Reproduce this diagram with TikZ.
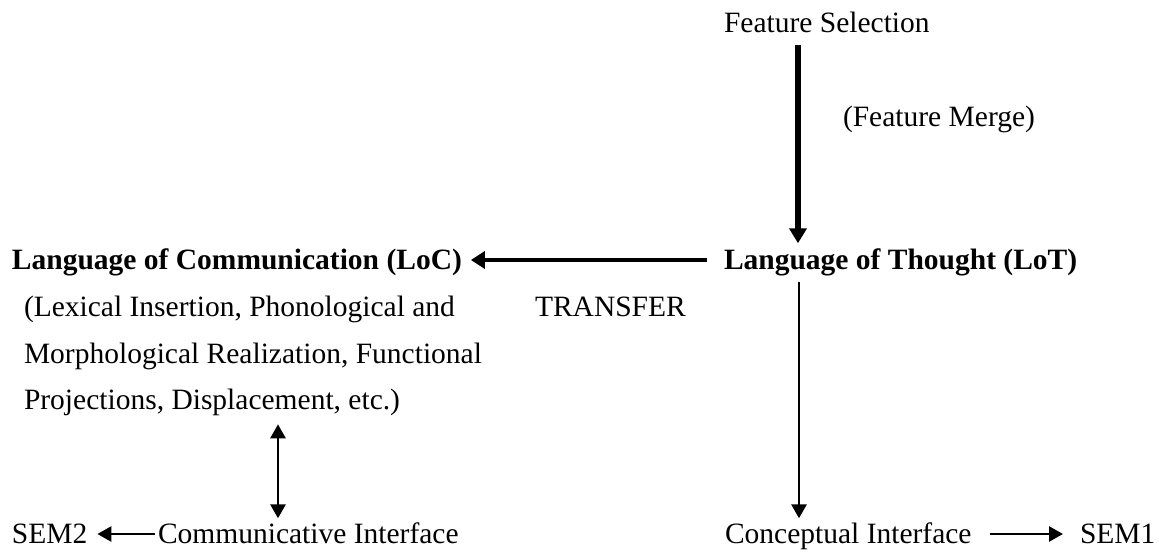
\documentclass[tikz,border=0pt]{standalone}
\usepackage{fontspec}
\setmainfont{Liberation Serif}
\usetikzlibrary{arrows.meta,calc}
\begin{document}
\begin{tikzpicture}[x=1pt,y=-1pt,
  txt/.style={inner sep=0pt,outer sep=0pt,anchor=base west,font=\fontsize{29.5}{35}\selectfont},
  btxt/.style={txt,font=\fontsize{29.5}{35}\selectfont\bfseries},
  thickarr/.style={line width=6.5pt,-{Triangle[length=15pt,width=17pt]}},
  medarr/.style={line width=4.5pt,-{Triangle[length=14pt,width=17pt]}},
  thinarr/.style={line width=2.8pt,-{Triangle[length=14pt,width=15pt]}},
  dblarr/.style={line width=2.8pt,{Triangle[length=14pt,width=15pt]}-{Triangle[length=14pt,width=15pt]}}
]
\useasboundingbox (0,0) rectangle (1159,556);
\node[txt] (fs) at (724,32.3) {Feature Selection};
\node[txt] (fm) at (843,127) {(Feature Merge)};
\node[btxt] (loc) at (12,269.3) {Language of Communication (LoC)};
\node[btxt] (lot) at (724,269.3) {Language of Thought (LoT)};
\node[txt] (l1) at (24,316.7) {(Lexical Insertion, Phonological and};
\node[txt] (tr) at (535,316.7) {TRANSFER};
\node[txt] (l2) at (24,363) {Morphological Realization, Functional};
\node[txt] (l3) at (24,409.3) {Projections, Displacement, etc.)};
\node[txt] (sem2) at (12,543.3) {SEM2};
\node[txt] (comm) at (158,543.3) {Communicative Interface};
\node[txt] (ci) at (725,543.3) {Conceptual Interface};
\node[txt] (sem1) at (1080,543.3) {SEM1};

\draw[thickarr] ($(fs.base west)+(74,13)$) -- ($(lot.base west)+(74,-26)$);
\draw[medarr] ($(lot.base west)+(-17,-9.3)$) -- ($(loc.base east)+(9,-9.3)$);
\draw[thinarr] ($(lot.base west)+(75,13)$) -- ($(ci.base west)+(74,-25)$);
\draw[dblarr] ($(l3.base west)+(254,15)$) -- ($(comm.base west)+(120,-25)$);
\draw[thinarr] ($(comm.base west)+(-3,-9.3)$) -- ($(sem2.base east)+(10,-9.3)$);
\draw[thinarr] ($(ci.base east)+(18,-9.3)$) -- ($(sem1.base west)+(-17,-9.3)$);
\end{tikzpicture}
\end{document}
